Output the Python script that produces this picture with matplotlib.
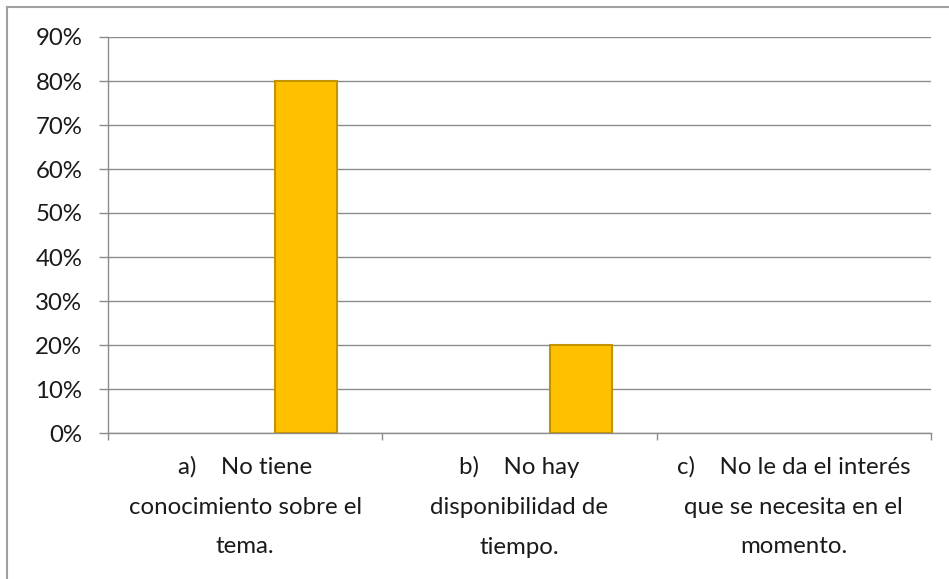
import numpy as np
import matplotlib.pyplot as plt
from matplotlib.lines import Line2D
from matplotlib.ticker import PercentFormatter

# Datos
categorias = ["a)    No tiene\nconocimiento sobre el\ntema.",
              "b)    No hay\ndisponibilidad de\ntiempo.",
              "c)    No le da el interés\nque se necesita en el\nmomento."]
valores = [80, 20, 0]
yticks = [0, 10, 20, 30, 40, 50, 60, 70, 80, 90]

plt.rcParams['font.family'] = ['Lato', 'DejaVu Sans']

W, H = 949, 579
fig = plt.figure(figsize=(W / 100, H / 100), dpi=100)
# área del gráfico (en píxeles de la referencia)
left, right, top, bottom = 108, 931, 37, 433
ax = fig.add_axes([left / W, 1 - bottom / H, (right - left) / W, (bottom - top) / H])

x = np.arange(len(categorias))
anchos_borde = [1.5 if v > 0 else 0 for v in valores]
ax.bar(x + 0.223, valores, width=0.226, color='#FFC000', edgecolor='#C49300',
       linewidth=anchos_borde, zorder=3)

ax.set_xlim(-0.5, len(categorias) - 0.5)
ax.set_ylim(0, 90)
ax.set_yticks(yticks)
ax.yaxis.set_major_formatter(PercentFormatter(decimals=0))
ax.grid(axis='y', color='#8C8C8C', linewidth=1.0, zorder=0)

ax.set_xticks(np.arange(-0.5, len(categorias), 1.0))
ax.set_xticklabels([])
for i, c in enumerate(categorias):
    ax.text(i, -16.8, c, ha='center', va='center', fontsize=17.3, linespacing=2.1, color='#1a1a1a')

for s in ['top', 'right']:
    ax.spines[s].set_visible(False)
for s in ['left', 'bottom']:
    ax.spines[s].set_color('#8C8C8C')
    ax.spines[s].set_linewidth(1.0)
ax.tick_params(axis='y', length=6.5, color='#8C8C8C', width=1.0, labelsize=17.3, pad=12, labelcolor='#1a1a1a')
ax.tick_params(axis='x', length=5, color='#8C8C8C', width=1.0)

# borde del área del gráfico (arriba e izquierda)
fig.add_artist(Line2D([7 / W, 1], [1 - 7 / H, 1 - 7 / H], color='#A0A0A0', linewidth=1.5, transform=fig.transFigure))
fig.add_artist(Line2D([7 / W, 7 / W], [0, 1 - 7 / H], color='#A0A0A0', linewidth=1.5, transform=fig.transFigure))

fig.savefig('out.png', dpi=100)
